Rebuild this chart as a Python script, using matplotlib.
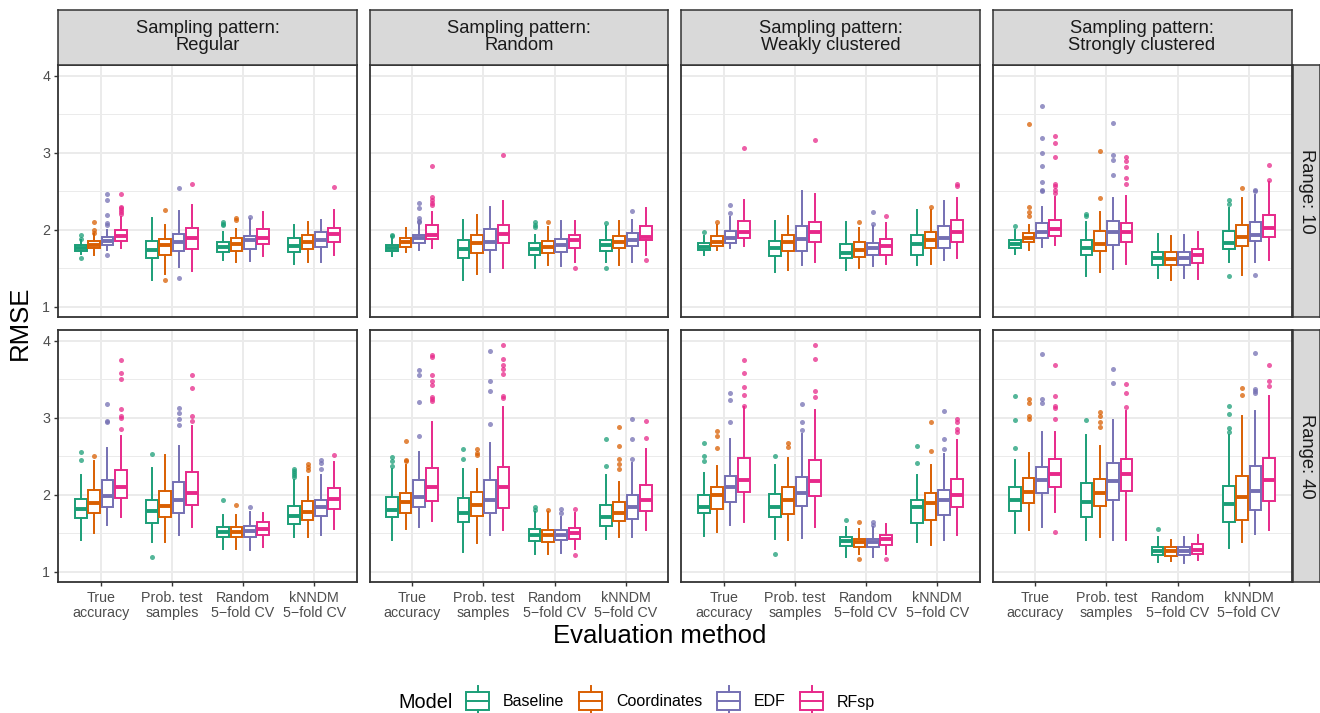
import numpy as np
import matplotlib
matplotlib.use('Agg')
from matplotlib import pyplot as plt
from matplotlib.patches import Rectangle

plt.rcParams['font.family'] = ['Liberation Sans', 'DejaVu Sans']

patterns = ['Regular', 'Random', 'Weakly clustered', 'Strongly clustered']
ranges = ['10', '40']
methods = ['True\naccuracy', 'Prob. test\nsamples', 'Random\n5\u2212fold CV', 'kNNDM\n5\u2212fold CV']
models = ['Baseline', 'Coordinates', 'EDF', 'RFsp']
colors = ['#1B9E77', '#D95F02', '#7570B3', '#E7298A']

# box stats: one row per method x model (Baseline, Coordinates, EDF, RFsp)
# columns: lower whisker, q1, median, q3, upper whisker
regular_10 = [
    [1.69, 1.72, 1.76, 1.80, 1.87], [1.68, 1.77, 1.81, 1.85, 1.95], [1.74, 1.81, 1.86, 1.91, 2.00], [1.76, 1.85, 1.92, 2.00, 2.17],
    [1.35, 1.64, 1.74, 1.86, 2.15], [1.43, 1.68, 1.80, 1.88, 2.07], [1.52, 1.72, 1.84, 1.95, 2.25], [1.47, 1.75, 1.90, 2.03, 2.32],
    [1.61, 1.71, 1.78, 1.84, 1.97], [1.58, 1.73, 1.82, 1.89, 2.01], [1.60, 1.75, 1.87, 1.92, 2.14], [1.66, 1.82, 1.89, 2.01, 2.23],
    [1.56, 1.71, 1.79, 1.89, 2.06], [1.58, 1.75, 1.84, 1.94, 2.10], [1.58, 1.78, 1.87, 1.97, 2.13], [1.67, 1.84, 1.95, 2.03, 2.26],
]
regular_10_out = [
    [1.93, 1.88, 1.63], [2.10, 2.00, 1.96], [2.47, 2.39, 2.20, 2.09, 2.06, 1.67], [2.47, 2.30, 2.28, 2.26, 2.23, 2.21],
    [], [2.26, 1.35], [2.55, 1.38], [2.59],
    [2.10, 2.08, 2.06], [2.15, 2.13], [2.17], [],
    [], [], [], [2.56],
]

random_10 = [
    [1.66, 1.72, 1.77, 1.81, 1.91], [1.71, 1.78, 1.84, 1.89, 2.02], [1.74, 1.83, 1.89, 1.94, 2.08], [1.76, 1.88, 1.93, 2.06, 2.23],
    [1.35, 1.63, 1.75, 1.87, 2.13], [1.43, 1.70, 1.83, 1.94, 2.20], [1.45, 1.74, 1.84, 2.01, 2.30], [1.50, 1.83, 1.95, 2.07, 2.38],
    [1.50, 1.68, 1.75, 1.83, 1.94], [1.55, 1.70, 1.78, 1.86, 2.04], [1.53, 1.71, 1.80, 1.88, 2.11], [1.58, 1.77, 1.87, 1.94, 2.12],
    [1.58, 1.72, 1.80, 1.87, 2.05], [1.55, 1.76, 1.84, 1.92, 2.12], [1.58, 1.79, 1.87, 1.96, 2.13], [1.67, 1.87, 1.91, 2.05, 2.29],
]
random_10_out = [
    [1.94, 1.92], [], [2.35, 2.29, 2.15, 2.12, 2.10], [2.83, 2.43, 2.39, 2.35, 2.32],
    [], [], [], [2.97],
    [2.10, 2.07, 2.04], [2.10], [], [1.51],
    [2.09, 1.51], [], [2.24], [1.61],
]

weak_10 = [
    [1.67, 1.74, 1.78, 1.83, 1.92], [1.74, 1.79, 1.84, 1.92, 2.06], [1.76, 1.83, 1.90, 1.98, 2.17], [1.79, 1.90, 1.97, 2.11, 2.39],
    [1.45, 1.66, 1.76, 1.85, 2.11], [1.48, 1.72, 1.84, 1.94, 2.18], [1.55, 1.73, 1.88, 2.05, 2.50], [1.58, 1.84, 1.97, 2.10, 2.47],
    [1.48, 1.63, 1.70, 1.82, 2.10], [1.51, 1.65, 1.74, 1.84, 2.03], [1.53, 1.67, 1.76, 1.83, 2.05], [1.56, 1.68, 1.79, 1.88, 2.09],
    [1.54, 1.68, 1.82, 1.94, 2.26], [1.56, 1.76, 1.87, 1.97, 2.26], [1.61, 1.77, 1.89, 2.05, 2.37], [1.64, 1.84, 1.97, 2.13, 2.41],
]
weak_10_out = [
    [1.97], [2.10], [2.32, 2.22], [3.06],
    [], [], [], [3.17],
    [], [2.10], [2.23, 2.08], [2.18],
    [], [2.30], [], [2.59, 2.57],
]

strong_10 = [
    [1.69, 1.77, 1.82, 1.87, 2.00], [1.74, 1.84, 1.89, 1.96, 2.07], [1.78, 1.90, 1.97, 2.09, 2.30], [1.81, 1.92, 2.01, 2.13, 2.43],
    [1.40, 1.67, 1.77, 1.87, 2.10], [1.45, 1.72, 1.82, 1.98, 2.23], [1.49, 1.81, 1.97, 2.11, 2.42], [1.56, 1.84, 1.97, 2.09, 2.44],
    [1.38, 1.54, 1.63, 1.71, 1.95], [1.35, 1.55, 1.62, 1.71, 1.92], [1.38, 1.55, 1.63, 1.71, 1.93], [1.36, 1.57, 1.67, 1.75, 1.97],
    [1.58, 1.75, 1.83, 1.99, 2.28], [1.42, 1.79, 1.91, 2.07, 2.41], [1.58, 1.85, 1.94, 2.10, 2.45], [1.61, 1.91, 2.03, 2.20, 2.62],
]
strong_10_out = [
    [2.05], [3.37, 2.30, 2.23, 2.18], [3.61, 3.19, 3.00, 2.83, 2.62, 2.52, 2.50], [3.22, 3.13, 2.95, 2.60, 2.57, 2.52, 2.48],
    [2.21, 2.18], [3.03, 2.41], [3.39, 2.97, 2.91, 2.71], [2.95, 2.90, 2.82, 2.68, 2.59],
    [], [], [], [],
    [2.39, 2.34, 1.40], [2.54], [2.52, 2.51, 1.41], [2.84, 2.65],
]

regular_40 = [
    [1.42, 1.70, 1.82, 1.95, 2.26], [1.51, 1.77, 1.90, 2.06, 2.44], [1.61, 1.84, 1.99, 2.19, 2.61], [1.71, 1.96, 2.10, 2.32, 2.76],
    [1.39, 1.64, 1.79, 1.94, 2.35], [1.39, 1.71, 1.85, 2.05, 2.52], [1.48, 1.77, 1.94, 2.17, 2.63], [1.58, 1.87, 2.03, 2.30, 2.90],
    [1.30, 1.46, 1.52, 1.59, 1.74], [1.30, 1.46, 1.52, 1.59, 1.74], [1.29, 1.45, 1.53, 1.60, 1.78], [1.32, 1.48, 1.56, 1.65, 1.77],
    [1.45, 1.62, 1.73, 1.86, 2.20], [1.45, 1.68, 1.78, 1.92, 2.23], [1.48, 1.72, 1.84, 1.94, 2.26], [1.56, 1.82, 1.95, 2.09, 2.43],
]
regular_40_out = [
    [2.56, 2.45], [2.51], [3.18, 2.96, 2.95], [3.75, 3.58, 3.51, 3.11, 3.03, 3.00, 2.86],
    [2.53, 1.19], [], [3.13, 3.06, 2.98, 2.91], [3.55, 3.39, 3.03, 2.96],
    [1.93], [1.87], [1.84], [],
    [2.34, 2.31, 2.29, 2.26, 2.23], [2.40, 2.36, 2.32], [2.45, 2.42, 2.33], [2.52],
]

random_40 = [
    [1.41, 1.71, 1.80, 1.97, 2.34], [1.56, 1.77, 1.91, 2.03, 2.39], [1.58, 1.84, 1.97, 2.20, 2.56], [1.66, 1.92, 2.10, 2.35, 2.94],
    [1.26, 1.65, 1.76, 1.96, 2.34], [1.37, 1.73, 1.87, 2.04, 2.33], [1.48, 1.76, 1.94, 2.19, 2.68], [1.54, 1.83, 2.10, 2.36, 3.14],
    [1.23, 1.40, 1.48, 1.56, 1.78], [1.23, 1.39, 1.48, 1.55, 1.78], [1.24, 1.41, 1.48, 1.55, 1.71], [1.30, 1.43, 1.51, 1.57, 1.76],
    [1.43, 1.60, 1.71, 1.87, 2.26], [1.45, 1.66, 1.77, 1.91, 2.17], [1.45, 1.69, 1.84, 2.00, 2.41], [1.55, 1.79, 1.93, 2.13, 2.60],
]
random_40_out = [
    [2.49, 2.44, 2.37], [2.70, 2.45, 2.44], [3.62, 3.55, 3.20, 2.77], [3.81, 3.79, 3.55, 3.48, 3.42, 3.27, 3.25, 3.22],
    [2.59, 2.47], [2.59, 2.54, 2.52], [3.87, 3.48, 3.35, 2.92], [3.94, 3.76, 3.69, 3.64, 3.57, 3.28, 3.26],
    [1.84, 1.80], [1.80], [1.82, 1.76], [1.82, 1.22],
    [2.72, 2.37], [2.88, 2.64, 2.47, 2.40, 2.33], [2.99, 2.73, 2.47], [2.96, 2.74],
]

weak_40 = [
    [1.47, 1.76, 1.84, 2.00, 2.29], [1.52, 1.82, 2.00, 2.10, 2.38], [1.61, 1.91, 2.10, 2.25, 2.73], [1.65, 2.04, 2.20, 2.48, 3.14],
    [1.43, 1.71, 1.84, 2.01, 2.39], [1.41, 1.75, 1.94, 2.10, 2.48], [1.44, 1.86, 2.03, 2.23, 2.79], [1.58, 1.98, 2.18, 2.45, 3.10],
    [1.20, 1.34, 1.40, 1.45, 1.58], [1.23, 1.32, 1.39, 1.43, 1.56], [1.20, 1.33, 1.39, 1.43, 1.58], [1.23, 1.35, 1.43, 1.48, 1.62],
    [1.39, 1.64, 1.84, 1.94, 2.26], [1.35, 1.68, 1.90, 2.03, 2.39], [1.42, 1.74, 1.93, 2.06, 2.53], [1.48, 1.84, 2.00, 2.21, 2.71],
]
weak_40_out = [
    [2.68, 2.51, 2.44], [2.83, 2.77, 2.61], [3.32, 3.23, 2.95], [3.75, 3.58, 3.40, 3.30, 3.16],
    [2.51, 1.23], [2.68, 2.62], [3.18, 2.95, 2.84], [3.94, 3.77, 3.35, 3.27],
    [1.67], [1.65, 1.17], [1.65, 1.61], [1.17],
    [2.63, 2.42], [2.94, 2.57], [3.09, 2.72, 2.59], [2.99, 2.94, 2.86, 2.81],
]

strong_40 = [
    [1.51, 1.79, 1.94, 2.10, 2.45], [1.54, 1.89, 2.04, 2.22, 2.55], [1.59, 2.02, 2.19, 2.36, 2.81], [1.78, 2.10, 2.27, 2.46, 2.81],
    [1.42, 1.71, 1.91, 2.16, 2.78], [1.45, 1.85, 2.02, 2.21, 2.63], [1.42, 1.94, 2.18, 2.41, 2.97], [1.42, 2.05, 2.27, 2.47, 3.09],
    [1.13, 1.22, 1.27, 1.33, 1.46], [1.14, 1.21, 1.27, 1.33, 1.42], [1.12, 1.22, 1.27, 1.32, 1.45], [1.15, 1.23, 1.29, 1.36, 1.48],
    [1.31, 1.65, 1.88, 2.12, 2.78], [1.39, 1.67, 1.97, 2.25, 3.02], [1.49, 1.81, 2.05, 2.37, 3.09], [1.55, 1.92, 2.19, 2.48, 3.29],
]
strong_40_out = [
    [3.29, 2.97, 2.61], [3.25, 3.19, 3.03, 2.98], [3.83, 3.24, 3.19], [3.68, 3.29, 3.15, 3.13, 2.99, 1.52],
    [2.97], [3.07, 3.03, 2.95, 2.88], [3.63, 3.45], [3.44, 3.32, 3.14],
    [1.56], [], [], [],
    [3.16, 3.05, 2.87, 2.82], [3.39, 3.30], [3.84, 3.38, 3.35, 3.32], [3.68, 3.48, 3.41],
]

panels = {
    ('10', 'Regular'): (regular_10, regular_10_out),
    ('10', 'Random'): (random_10, random_10_out),
    ('10', 'Weakly clustered'): (weak_10, weak_10_out),
    ('10', 'Strongly clustered'): (strong_10, strong_10_out),
    ('40', 'Regular'): (regular_40, regular_40_out),
    ('40', 'Random'): (random_40, random_40_out),
    ('40', 'Weakly clustered'): (weak_40, weak_40_out),
    ('40', 'Strongly clustered'): (strong_40, strong_40_out),
}

W, H = 1320, 713
fig = plt.figure(figsize=(W / 100, H / 100), dpi=100)

col_left = [58, 369.5, 681, 992.5]
row_top = [65, 330]
pw, ph = 299, 252
dark = '#333333'


def px_rect(x0, y0, w, h):
    return [x0 / W, 1 - (y0 + h) / H, w / W, h / H]


for r, rng in enumerate(ranges):
    for c, pat in enumerate(patterns):
        stats, outs = panels[(rng, pat)]
        ax = fig.add_axes(px_rect(col_left[c], row_top[r], pw, ph))
        for j, col in enumerate(colors):
            bx = []
            for i in range(len(methods)):
                lo, q1, med, q3, hi = stats[i * 4 + j]
                bx.append(dict(whislo=lo, q1=q1, med=med, q3=q3, whishi=hi,
                               fliers=outs[i * 4 + j]))
            pos = [i + (j - 1.5) * 0.1875 for i in range(len(methods))]
            ax.bxp(bx, positions=pos, widths=0.165, patch_artist=True,
                   showcaps=False, manage_ticks=False,
                   boxprops=dict(facecolor='white', edgecolor=col, linewidth=1.4),
                   medianprops=dict(color=col, linewidth=2.8, solid_capstyle='butt'),
                   whiskerprops=dict(color=col, linewidth=1.4),
                   flierprops=dict(marker='o', markerfacecolor=col, markeredgecolor='none',
                                   markersize=3.6, alpha=0.75))
        ax.set_xlim(-0.6, 3.6)
        ax.set_ylim(0.87, 4.14)
        ax.set_xticks(range(len(methods)))
        ax.set_yticks([1, 2, 3, 4])
        ax.set_yticks([1.5, 2.5, 3.5], minor=True)
        ax.grid(which='major', color='#EBEBEB', linewidth=1.4)
        ax.grid(which='minor', axis='y', color='#EBEBEB', linewidth=0.7)
        ax.set_axisbelow(True)
        for s in ax.spines.values():
            s.set_color(dark)
            s.set_linewidth(1.3)
        ax.tick_params(which='minor', length=0)
        ax.tick_params(which='major', direction='out', length=3, width=1.0, color=dark,
                       labelcolor='#4D4D4D', labelsize=10.3, pad=2.5)
        if c == 0:
            ax.set_yticklabels(['1', '2', '3', '4'])
        else:
            ax.tick_params(axis='y', length=0, labelleft=False)
        if r == 1:
            ax.set_xticklabels(methods, linespacing=1.1)
            ax.tick_params(axis='x', pad=3.5)
        else:
            ax.tick_params(axis='x', length=0, labelbottom=False)

# facet strips
for c, pat in enumerate(patterns):
    sax = fig.add_axes(px_rect(col_left[c], 9.5, pw, 55))
    sax.set_facecolor('#D9D9D9')
    sax.set_xticks([])
    sax.set_yticks([])
    for s in sax.spines.values():
        s.set_color(dark)
        s.set_linewidth(1.1)
    sax.text(0.5, 0.5, 'Sampling pattern:\n' + pat, ha='center', va='center',
             fontsize=13.2, color='#1A1A1A', linespacing=1.02, transform=sax.transAxes)

for r, rng in enumerate(ranges):
    sax = fig.add_axes(px_rect(1292.5, row_top[r], 27, ph))
    sax.set_facecolor('#D9D9D9')
    sax.set_xticks([])
    sax.set_yticks([])
    for s in sax.spines.values():
        s.set_color(dark)
        s.set_linewidth(1.1)
    sax.text(0.5, 0.5, 'Range: ' + rng, ha='center', va='center', rotation=-90,
             fontsize=13.2, color='#1A1A1A', transform=sax.transAxes)

# axis titles
fig.text(660 / W, 1 - 636 / H, 'Evaluation method', ha='center', va='center', fontsize=18.5)
fig.text(20 / W, 1 - 323 / H, 'RMSE', ha='center', va='center', rotation=90, fontsize=18.5)

# legend drawn in pixel space
lax = fig.add_axes([0, 0, 1, 1])
lax.set_xlim(0, W)
lax.set_ylim(H, 0)
lax.axis('off')
lax.text(398, 702, 'Model', ha='left', va='center', fontsize=14.3)
key_x = [465, 578, 716, 799]
for k, (name, col) in enumerate(zip(models, colors)):
    x0 = key_x[k]
    lax.add_patch(Rectangle((x0 + 1, 692), 23, 18, facecolor='white', edgecolor=col, linewidth=1.4))
    lax.plot([x0 + 1, x0 + 24], [701, 701], color=col, linewidth=1.4)
    lax.plot([x0 + 12.5, x0 + 12.5], [686, 692], color=col, linewidth=1.4)
    lax.plot([x0 + 12.5, x0 + 12.5], [710, 714], color=col, linewidth=1.4)
    lax.text(x0 + 38, 702, name, ha='left', va='center', fontsize=11.5)

fig.savefig('out.png', dpi=100)
